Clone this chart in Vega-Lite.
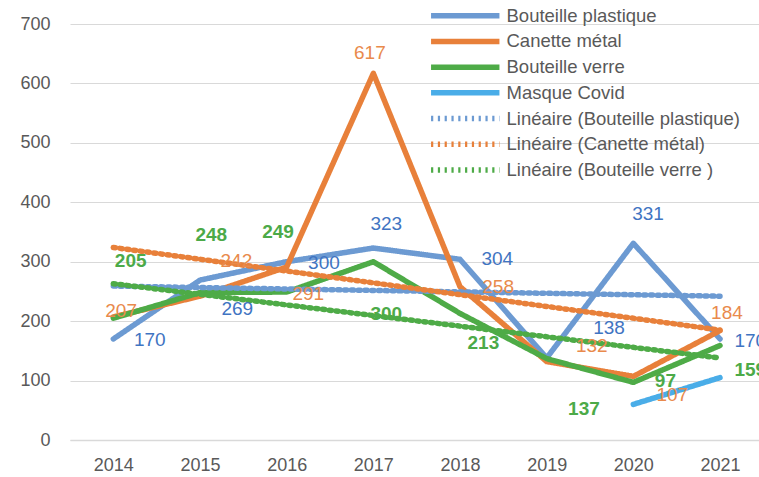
{
  "$schema": "https://vega.github.io/schema/vega-lite/v6.json",
  "width": 689,
  "height": 416,
  "autosize": {"type": "none"},
  "padding": {"left": 70, "top": 24, "right": 0, "bottom": 37},
  "background": "white",
  "config": {"view": {"stroke": null}, "font": "Liberation Sans"},
  "datasets": {
    "lines": [
      {"series": "Bouteille plastique", "year": 2014, "value": 170},
      {"series": "Bouteille plastique", "year": 2015, "value": 269},
      {"series": "Bouteille plastique", "year": 2016, "value": 300},
      {"series": "Bouteille plastique", "year": 2017, "value": 323},
      {"series": "Bouteille plastique", "year": 2018, "value": 304},
      {"series": "Bouteille plastique", "year": 2019, "value": 138},
      {"series": "Bouteille plastique", "year": 2020, "value": 331},
      {"series": "Bouteille plastique", "year": 2021, "value": 170},
      {"series": "Canette métal", "year": 2014, "value": 207},
      {"series": "Canette métal", "year": 2015, "value": 242},
      {"series": "Canette métal", "year": 2016, "value": 291},
      {"series": "Canette métal", "year": 2017, "value": 617},
      {"series": "Canette métal", "year": 2018, "value": 258},
      {"series": "Canette métal", "year": 2019, "value": 132},
      {"series": "Canette métal", "year": 2020, "value": 107},
      {"series": "Canette métal", "year": 2021, "value": 184},
      {"series": "Bouteille verre", "year": 2014, "value": 205},
      {"series": "Bouteille verre", "year": 2015, "value": 248},
      {"series": "Bouteille verre", "year": 2016, "value": 249},
      {"series": "Bouteille verre", "year": 2017, "value": 300},
      {"series": "Bouteille verre", "year": 2018, "value": 213},
      {"series": "Bouteille verre", "year": 2019, "value": 137},
      {"series": "Bouteille verre", "year": 2020, "value": 97},
      {"series": "Bouteille verre", "year": 2021, "value": 159},
      {"series": "Masque Covid", "year": 2020, "value": 60},
      {"series": "Masque Covid", "year": 2021, "value": 105},
      {"series": "Linéaire (Bouteille plastique)", "year": 2014, "value": 259},
      {"series": "Linéaire (Bouteille plastique)", "year": 2021, "value": 242},
      {"series": "Linéaire (Canette métal)", "year": 2014, "value": 324},
      {"series": "Linéaire (Canette métal)", "year": 2021, "value": 185},
      {"series": "Linéaire (Bouteille verre )", "year": 2014, "value": 263},
      {"series": "Linéaire (Bouteille verre )", "year": 2021, "value": 138}
    ],
    "labels": [
      {"series": "P", "label": "170", "lx": 2014.42, "ly": 168},
      {"series": "P", "label": "269", "lx": 2015.43, "ly": 220},
      {"series": "P", "label": "300", "lx": 2016.43, "ly": 298},
      {"series": "P", "label": "323", "lx": 2017.15, "ly": 363},
      {"series": "P", "label": "304", "lx": 2018.43, "ly": 305},
      {"series": "P", "label": "138", "lx": 2019.72, "ly": 189},
      {"series": "P", "label": "331", "lx": 2020.17, "ly": 380},
      {"series": "P", "label": "170", "lx": 2021.35, "ly": 167},
      {"series": "C", "label": "207", "lx": 2014.09, "ly": 217},
      {"series": "C", "label": "242", "lx": 2015.42, "ly": 301},
      {"series": "C", "label": "291", "lx": 2016.25, "ly": 246},
      {"series": "C", "label": "617", "lx": 2016.96, "ly": 651},
      {"series": "C", "label": "258", "lx": 2018.44, "ly": 258},
      {"series": "C", "label": "132", "lx": 2019.52, "ly": 159},
      {"series": "C", "label": "107", "lx": 2020.45, "ly": 76},
      {"series": "C", "label": "184", "lx": 2021.08, "ly": 214},
      {"series": "V", "label": "205", "lx": 2014.2, "ly": 301},
      {"series": "V", "label": "248", "lx": 2015.13, "ly": 345},
      {"series": "V", "label": "249", "lx": 2015.9, "ly": 350},
      {"series": "V", "label": "300", "lx": 2017.15, "ly": 212},
      {"series": "V", "label": "213", "lx": 2018.27, "ly": 164},
      {"series": "V", "label": "137", "lx": 2019.43, "ly": 52},
      {"series": "V", "label": "97", "lx": 2020.37, "ly": 100},
      {"series": "V", "label": "159", "lx": 2021.35, "ly": 118}
    ]
  },
  "layer": [
    {
      "data": {"name": "lines"},
      "mark": {"type": "line", "strokeCap": "round", "strokeJoin": "round"},
      "encoding": {
        "x": {
          "field": "year", "type": "quantitative",
          "scale": {"domain": [2013.5, 2021.45], "nice": false, "zero": false},
          "axis": {
            "title": null, "values": [2014, 2015, 2016, 2017, 2018, 2019, 2020, 2021],
            "format": "d", "grid": false, "ticks": false, "tickSize": 0,
            "domainColor": "#d9d9d9", "domainWidth": 1.5,
            "labelFontSize": 18, "labelColor": "#595959", "labelPadding": 16
          }
        },
        "y": {
          "field": "value", "type": "quantitative",
          "scale": {"domain": [0, 700], "nice": false},
          "axis": {
            "title": null, "values": [0, 100, 200, 300, 400, 500, 600, 700],
            "grid": true, "gridColor": "#d9d9d9", "gridWidth": 1.2,
            "domain": false, "ticks": false, "tickSize": 0,
            "labelFontSize": 18, "labelColor": "#595959", "labelPadding": 20
          }
        },
        "color": {
          "field": "series", "type": "nominal",
          "scale": {
            "domain": ["Bouteille plastique", "Canette métal", "Bouteille verre", "Masque Covid", "Linéaire (Bouteille plastique)", "Linéaire (Canette métal)", "Linéaire (Bouteille verre )"],
            "range": ["#6c9ad2", "#e8803a", "#4eab47", "#4aade8", "#6c9ad2", "#e8803a", "#4eab47"]
          },
          "legend": {
            "title": null, "orient": "none", "legendX": 386, "legendY": -17.5,
            "symbolType": "M-5.7,0L5.7,0", "symbolSize": 144, "padding": 0,
            "labelFontSize": 18.5, "labelColor": "#595959", "labelLimit": 400,
            "labelOffset": 32, "rowPadding": 2.7
          }
        },
        "strokeDash": {
          "field": "series", "type": "nominal",
          "scale": {
            "domain": ["Bouteille plastique", "Canette métal", "Bouteille verre", "Masque Covid", "Linéaire (Bouteille plastique)", "Linéaire (Canette métal)", "Linéaire (Bouteille verre )"],
            "range": [[1, 0], [1, 0], [1, 0], [1, 0], [2.2, 4.6], [2.2, 4.6], [2.2, 4.6]]
          }
        },
        "strokeWidth": {
          "field": "series", "type": "nominal",
          "scale": {
            "domain": ["Bouteille plastique", "Canette métal", "Bouteille verre", "Masque Covid", "Linéaire (Bouteille plastique)", "Linéaire (Canette métal)", "Linéaire (Bouteille verre )"],
            "range": [5.5, 5.5, 5.5, 5.5, 2.2, 2.2, 2.2]
          }
        }
      }
    },
    {
      "data": {"name": "labels"},
      "transform": [{"filter": "datum.series == 'P'"}],
      "mark": {"type": "text", "fontSize": 19, "color": "#3f74c2", "align": "center", "baseline": "middle"},
      "encoding": {
        "x": {"field": "lx", "type": "quantitative"},
        "y": {"field": "ly", "type": "quantitative"},
        "text": {"field": "label"}
      }
    },
    {
      "data": {"name": "labels"},
      "transform": [{"filter": "datum.series == 'C'"}],
      "mark": {"type": "text", "fontSize": 19, "color": "#e98a4c", "align": "center", "baseline": "middle"},
      "encoding": {
        "x": {"field": "lx", "type": "quantitative"},
        "y": {"field": "ly", "type": "quantitative"},
        "text": {"field": "label"}
      }
    },
    {
      "data": {"name": "labels"},
      "transform": [{"filter": "datum.series == 'V'"}],
      "mark": {"type": "text", "fontSize": 19, "fontWeight": "bold", "color": "#4caa48", "align": "center", "baseline": "middle"},
      "encoding": {
        "x": {"field": "lx", "type": "quantitative"},
        "y": {"field": "ly", "type": "quantitative"},
        "text": {"field": "label"}
      }
    }
  ]
}
